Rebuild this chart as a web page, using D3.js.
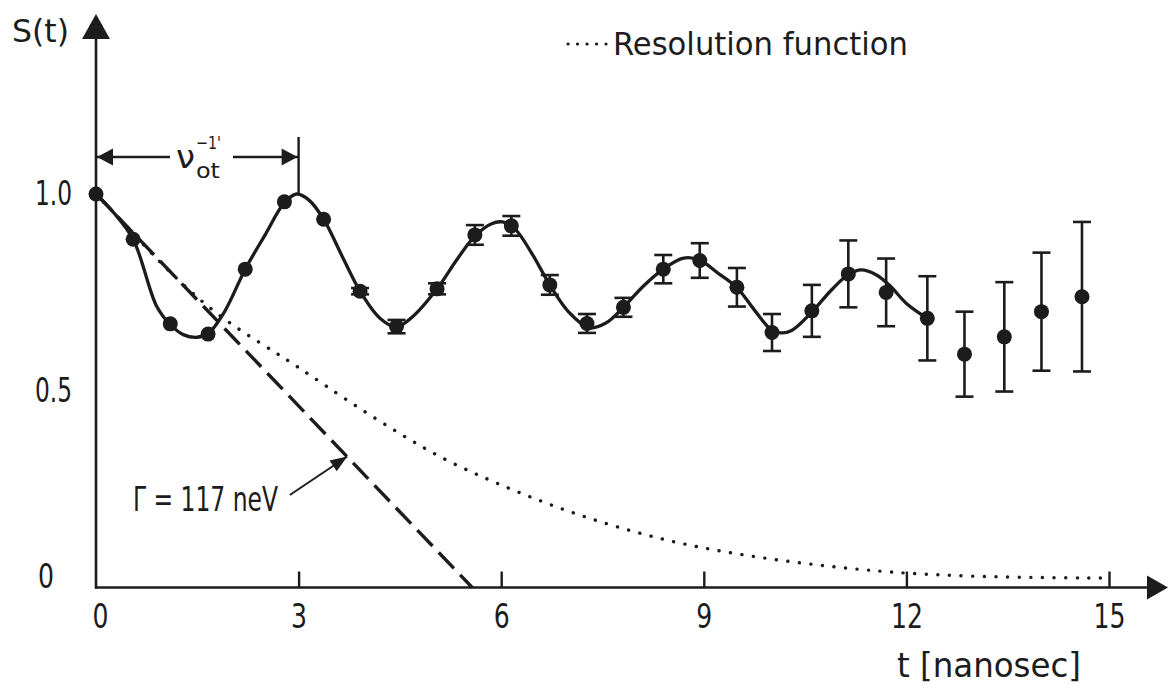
<!DOCTYPE html>
<html><head><meta charset="utf-8">
<script src="https://cdn.jsdelivr.net/npm/d3@7"></script>
<style>
html,body{margin:0;padding:0;background:#fff;}
svg{display:block;background:#fff;}
</style></head><body>
<svg id="chart" width="1168" height="688"></svg>
<script>
// ---------- data ----------
const times  = [0, 0.55, 1.10, 1.66, 2.21, 2.79, 3.37, 3.91, 4.45, 5.05, 5.61, 6.15, 6.72, 7.27, 7.81, 8.40, 8.94, 9.49, 10.01, 10.60, 11.14, 11.70, 12.31, 12.86, 13.45, 14.00, 14.60];
const values = [1.0, 0.885, 0.670, 0.644, 0.809, 0.980, 0.936, 0.753, 0.663, 0.759, 0.896, 0.919, 0.769, 0.671, 0.712, 0.809, 0.831, 0.763, 0.648, 0.703, 0.797, 0.750, 0.684, 0.593, 0.637, 0.701, 0.739];
const errors = [0, 0, 0, 0, 0, 0, 0, 0.008, 0.017, 0.014, 0.025, 0.025, 0.025, 0.024, 0.024, 0.036, 0.044, 0.049, 0.047, 0.066, 0.085, 0.086, 0.107, 0.108, 0.139, 0.150, 0.190];

// fitted curve (solid)
const fitT = [0, 0.25, 0.55, 0.9, 1.10, 1.3, 1.5, 1.66, 1.9, 2.21, 2.5, 2.79, 2.97, 3.15, 3.37, 3.65, 3.91, 4.2, 4.45, 4.7, 5.05, 5.35, 5.61, 5.85, 6.02, 6.2, 6.45, 6.72, 7.0, 7.3, 7.55, 7.81, 8.1, 8.40, 8.7, 8.94, 9.2, 9.49, 9.75, 10.0, 10.15, 10.3, 10.6, 10.9, 11.14, 11.33, 11.55, 11.75, 12.0, 12.31];
const fitS = [1.0, 0.955, 0.885, 0.714, 0.668, 0.642, 0.636, 0.645, 0.70, 0.809, 0.895, 0.978, 1.0, 0.985, 0.936, 0.84, 0.753, 0.685, 0.662, 0.690, 0.759, 0.835, 0.893, 0.924, 0.929, 0.912, 0.85, 0.769, 0.70, 0.660, 0.672, 0.712, 0.765, 0.809, 0.837, 0.832, 0.80, 0.762, 0.705, 0.655, 0.647, 0.653, 0.700, 0.758, 0.795, 0.807, 0.795, 0.768, 0.722, 0.684];

// resolution function (dotted)
const resT = [0, 0.5, 0.95, 1.74, 2.48, 3.0, 3.71, 4.5, 5.2, 6.0, 6.5, 7.0, 7.5, 8.0, 8.5, 9.0, 9.5, 10.0, 10.5, 11.0, 11.5, 12.0, 13.0, 14.0, 14.9];
const resS = [1.0, 0.91, 0.824, 0.697, 0.616, 0.56, 0.476, 0.39, 0.32, 0.26, 0.225, 0.193, 0.165, 0.140, 0.118, 0.100, 0.085, 0.072, 0.061, 0.051, 0.043, 0.036, 0.028, 0.025, 0.024];

// Gamma tangent (dashed)
const gammaT = [0, 5.57];
const gammaS = [1.0, 0.0];

const xTicks = [0, 3, 6, 9, 12, 15];
const yTicks = [0, 0.5, 1.0];
const yTickLabels = ["0", "0.5", "1.0"];
const xLabel = "t [nanosec]";
const yLabel = "S(t)";
const legendLabel = "Resolution function";
const gammaLabel = "Γ = 117 neV";

// ---------- drawing ----------
const ink = "#1c1c1c";
const FONT = "'DejaVu Sans', 'Liberation Sans', sans-serif";
const svg = d3.select("#chart");

const x = d3.scaleLinear().domain([0, 15]).range([96, 1109]);
const y = d3.scaleLinear().domain([0, 1]).range([587.5, 194]);

function txt(g, s, px, py, size, len) {
  const t = g.append("text").attr("x", px).attr("y", py)
    .attr("font-family", FONT).attr("font-size", size).attr("fill", ink)
    .attr("font-stretch", "condensed").text(s);
  if (len) t.attr("textLength", len).attr("lengthAdjust", "spacingAndGlyphs");
  return t;
}
function arrowHead(g, tipX, tipY, ang, len, half) {
  const bx = tipX - len * Math.cos(ang), by = tipY - len * Math.sin(ang);
  const nx = -Math.sin(ang) * half, ny = Math.cos(ang) * half;
  g.append("path").attr("d", `M${tipX},${tipY}L${bx + nx},${by + ny}L${bx - nx},${by - ny}Z`).attr("fill", ink);
}

// axis lines with arrows
const ax = svg.append("g");
ax.append("line").attr("x1", x(0) - 1).attr("x2", 1150).attr("y1", y(0)).attr("y2", y(0))
  .attr("stroke", ink).attr("stroke-width", 2.6);
arrowHead(ax, 1168, y(0), 0, 21, 12);
ax.append("line").attr("x1", x(0)).attr("x2", x(0)).attr("y1", y(0) + 1).attr("y2", 36)
  .attr("stroke", ink).attr("stroke-width", 2.6);
arrowHead(ax, x(0), 14, -Math.PI / 2, 25, 14);

// x axis ticks + labels
const xAxis = d3.axisBottom(x).tickValues(xTicks).tickSizeInner(-16).tickSizeOuter(0)
  .tickPadding(17).tickFormat(d3.format("d"));
const gx = svg.append("g").attr("transform", `translate(0,${y(0)})`).call(xAxis);
gx.select(".domain").remove();
gx.selectAll(".tick line").attr("stroke", ink).attr("stroke-width", 2.4).filter(d => d === 0).remove();
gx.selectAll(".tick text").attr("font-family", FONT).attr("font-size", 33).attr("fill", ink)
  .attr("font-stretch", "condensed")
  .each(function (d) {
    const s = String(d);
    d3.select(this).attr("textLength", 16 * s.length).attr("lengthAdjust", "spacingAndGlyphs");
  });
gx.selectAll(".tick").filter(d => d === 0).select("text").attr("x", 4);

// y axis labels
const yAxis = d3.axisLeft(y).tickValues(yTicks).tickSize(0).tickFormat((d, i) => yTickLabels[i]);
const gy = svg.append("g").attr("transform", `translate(${x(0)},0)`).call(yAxis);
gy.select(".domain").remove();
gy.selectAll(".tick text").attr("font-family", FONT).attr("font-size", 33).attr("fill", ink)
  .attr("font-stretch", "condensed").attr("text-anchor", "start").attr("x", -61)
  .each(function (d, i) {
    const s = yTickLabels[i];
    d3.select(this).attr("textLength", s.length === 1 ? 16 : 37).attr("lengthAdjust", "spacingAndGlyphs");
  });
gy.selectAll(".tick").filter(d => d === 0).select("text").attr("x", -58).attr("y", -11);

// axis titles
txt(svg, yLabel, 12, 42, 32, 57);
txt(svg, xLabel, 897, 677, 33, 184);

// resolution function (dotted)
const resData = resT.map((t, i) => [t, resS[i]]);
svg.append("path").datum(resData)
  .attr("d", d3.line().x(d => x(d[0])).y(d => y(d[1])).curve(d3.curveBasis))
  .attr("fill", "none").attr("stroke", ink).attr("stroke-width", 3.4)
  .attr("stroke-linecap", "round").attr("stroke-dasharray", "0.1 11.5");

// Gamma dashed line
const gData = gammaT.map((t, i) => [t, gammaS[i]]);
svg.append("path").datum(gData)
  .attr("d", d3.line().x(d => x(d[0])).y(d => y(d[1])))
  .attr("fill", "none").attr("stroke", ink).attr("stroke-width", 3.4)
  .attr("stroke-dasharray", "22 9");

// fitted curve
const fitData = fitT.map((t, i) => [t, fitS[i]]);
svg.append("path").datum(fitData)
  .attr("d", d3.line().x(d => x(d[0])).y(d => y(d[1])).curve(d3.curveCatmullRom.alpha(0.5)))
  .attr("fill", "none").attr("stroke", ink).attr("stroke-width", 3.3)
  .attr("stroke-linejoin", "round");

// error bars and points
const pts = times.map((t, i) => ({ t, v: values[i], e: errors[i] }));
const eb = svg.append("g").attr("stroke", ink).attr("stroke-width", 2.6);
pts.filter(p => p.e > 0).forEach(p => {
  eb.append("line").attr("x1", x(p.t)).attr("x2", x(p.t)).attr("y1", y(p.v - p.e)).attr("y2", y(p.v + p.e));
  eb.append("line").attr("x1", x(p.t) - 9).attr("x2", x(p.t) + 9).attr("y1", y(p.v - p.e)).attr("y2", y(p.v - p.e));
  eb.append("line").attr("x1", x(p.t) - 9).attr("x2", x(p.t) + 9).attr("y1", y(p.v + p.e)).attr("y2", y(p.v + p.e));
});
svg.append("g").selectAll("circle").data(pts).join("circle")
  .attr("cx", d => x(d.t)).attr("cy", d => y(d.v)).attr("r", 7.5).attr("fill", ink);

// legend
const lg = svg.append("g");
lg.append("line").attr("x1", 568).attr("x2", 606).attr("y1", 44).attr("y2", 44)
  .attr("stroke", ink).attr("stroke-width", 3.2).attr("stroke-linecap", "round").attr("stroke-dasharray", "0.1 9.4");
txt(lg, legendLabel, 613, 55, 32, 295);

// nu_ot^-1 annotation
const an = svg.append("g");
const ay = y(1.094);
an.append("line").attr("x1", x(0)).attr("x2", 170).attr("y1", ay).attr("y2", ay).attr("stroke", ink).attr("stroke-width", 2.4);
an.append("line").attr("x1", 233).attr("x2", x(3.0)).attr("y1", ay).attr("y2", ay).attr("stroke", ink).attr("stroke-width", 2.4);
arrowHead(an, x(0) + 1, ay, Math.PI, 16, 8.5);
arrowHead(an, x(3.0) - 1, ay, 0, 16, 8.5);
an.append("line").attr("x1", x(3.0)).attr("x2", x(3.0)).attr("y1", y(1.145)).attr("y2", y(1.0))
  .attr("stroke", ink).attr("stroke-width", 2.4);
// nu with super/subscript placed side by side (no overlapping boxes)
txt(an, "ν", 176, 168, 32, 19);
txt(an, "−1'", 196, 149, 18, 25);
txt(an, "ot", 196, 178, 21, 24);

// Gamma label + arrow
const ga = svg.append("g");
txt(ga, gammaLabel, 133, 511, 33, 145);
const sx = x(2.87), sy = y(0.235), tx = x(3.72), ty = y(0.333);
ga.append("line").attr("x1", sx).attr("y1", sy).attr("x2", tx).attr("y2", ty).attr("stroke", ink).attr("stroke-width", 2);
arrowHead(ga, tx, ty, Math.atan2(ty - sy, tx - sx), 17, 6.5);
</script>
</body></html>
